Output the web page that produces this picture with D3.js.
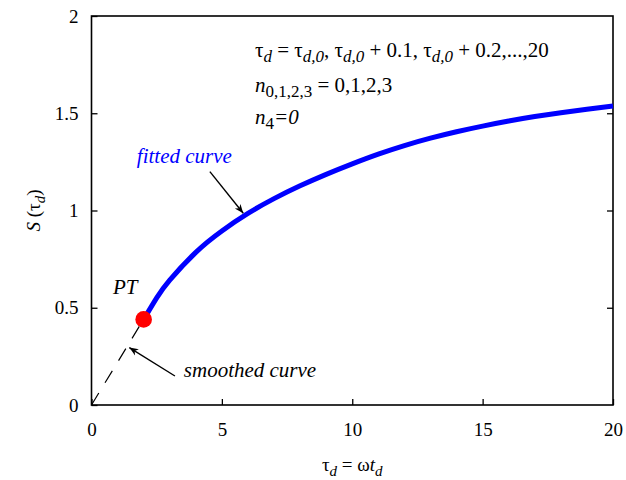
<!DOCTYPE html>
<html>
<head>
<meta charset="utf-8">
<script src="https://d3js.org/d3.v7.min.js"></script>
<style>
  body { margin: 0; background: #fff; }
  svg text { font-family: "Liberation Serif", "Times New Roman", Times, "DejaVu Serif", "Noto Serif", serif; fill: #000; }
</style>
</head>
<body>
<div id="chart"></div>
<script>
// values
const xTicks = [0, 5, 10, 15, 20];
const yTicks = [0, 0.5, 1, 1.5, 2];
const fittedX = [2, 2.5, 3, 4, 5, 6, 7, 8, 9, 10, 11, 12, 13, 14, 15, 16, 17, 18, 19, 20];
const fittedY = [0.44, 0.551, 0.642, 0.785, 0.895, 0.985, 1.061, 1.127, 1.186, 1.24, 1.29, 1.334, 1.372, 1.405, 1.434, 1.46, 1.483, 1.503, 1.521, 1.537];
const smoothX = [0, 1, 1.95];
const smoothY = [0, 0.22, 0.43];
const ptX = [2];
const ptY = [0.44];

const width = 626, height = 480;
const margin = { top: 16, right: 13, bottom: 75, left: 91.5 };

const svg = d3.select('#chart').append('svg')
  .attr('width', width)
  .attr('height', height);

const x = d3.scaleLinear().domain([0, 20]).range([margin.left, width - margin.right]);
const y = d3.scaleLinear().domain([0, 2]).range([height - margin.bottom, margin.top]);

svg.append('defs').append('marker')
  .attr('id', 'arrow')
  .attr('viewBox', '0 0 10 10')
  .attr('refX', 10).attr('refY', 5)
  .attr('markerWidth', 9).attr('markerHeight', 9)
  .attr('markerUnits', 'userSpaceOnUse')
  .attr('orient', 'auto')
  .append('path')
    .attr('d', 'M0,1 L10,5 L0,9 L3,5 Z')
    .attr('fill', '#000');

// ticks, pointing inward
const tickLen = 6;
svg.append('g')
  .attr('transform', `translate(0,${y(0)})`)
  .call(d3.axisBottom(x).tickValues(xTicks).tickSize(-tickLen).tickPadding(18).tickFormat(d3.format('d')))
  .call(g => g.select('.domain').remove());
svg.append('g')
  .attr('transform', `translate(${x(0)},0)`)
  .call(d3.axisLeft(y).tickValues(yTicks).tickSize(-tickLen).tickPadding(13).tickFormat(d => d))
  .call(g => g.select('.domain').remove());
svg.append('g')
  .attr('transform', `translate(${x(20)},0)`)
  .call(d3.axisRight(y).tickValues(yTicks.slice(1, -1)).tickSize(-tickLen).tickFormat(''))
  .call(g => g.select('.domain').remove());
svg.selectAll('g').attr('font-family', null);
svg.selectAll('.tick line').attr('stroke', '#000').attr('stroke-width', 1.3);
svg.selectAll('.tick text').attr('font-size', 19);

// frame
svg.append('rect')
  .attr('x', x(0)).attr('y', y(2))
  .attr('width', x(20) - x(0)).attr('height', y(0) - y(2))
  .attr('fill', 'none').attr('stroke', '#000').attr('stroke-width', 1.6);

// smoothed curve (dashed)
const line = d3.line().x(d => x(d[0])).y(d => y(d[1]));
svg.append('path')
  .datum(d3.zip(smoothX, smoothY))
  .attr('d', line)
  .attr('fill', 'none').attr('stroke', '#000').attr('stroke-width', 1.2)
  .attr('stroke-dasharray', '14,12');

// fitted curve
svg.append('path')
  .datum(d3.zip(fittedX, fittedY))
  .attr('d', line.curve(d3.curveNatural))
  .attr('fill', 'none').attr('stroke', '#0000ff').attr('stroke-width', 5);

// PT point
svg.selectAll('circle.pt').data(d3.zip(ptX, ptY)).enter()
  .append('circle')
    .attr('class', 'pt')
    .attr('cx', d => x(d[0])).attr('cy', d => y(d[1]))
    .attr('r', 8.3).attr('fill', '#ff0000');

// annotations
const arrow = (x1, y1, x2, y2) => svg.append('line')
  .attr('x1', x(x1)).attr('y1', y(y1)).attr('x2', x(x2)).attr('y2', y(y2))
  .attr('stroke', '#000').attr('stroke-width', 1.4)
  .attr('marker-end', 'url(#arrow)');
arrow(4.54, 1.20, 5.82, 0.986);
arrow(3.2, 0.149, 1.45, 0.295);

svg.append('text').attr('x', x(1.74)).attr('y', y(1.244))
  .attr('font-size', 21).attr('font-style', 'italic').style('fill', '#0000ff')
  .text('fitted curve');
svg.append('text').attr('x', x(0.82)).attr('y', y(0.571))
  .attr('font-size', 21).attr('font-style', 'italic')
  .text('PT');
svg.append('text').attr('x', x(3.54)).attr('y', y(0.144))
  .attr('font-size', 21).attr('font-style', 'italic')
  .text('smoothed curve');

// text block
const sub = (t, s, italic, fs) => t.append('tspan').attr('baseline-shift', '-30%').attr('font-size', fs || 15)
  .attr('font-style', italic ? 'italic' : 'normal').text(s);
const tb = svg.append('g').attr('font-size', 21);
const l1 = tb.append('text').attr('x', 255).attr('y', 57);
l1.append('tspan').text('τ'); sub(l1, 'd', true, 17);
l1.append('tspan').text(' = τ'); sub(l1, 'd,0', true, 17);
l1.append('tspan').text(', τ'); sub(l1, 'd,0', true, 17);
l1.append('tspan').text(' + 0.1, τ'); sub(l1, 'd,0', true, 17);
l1.append('tspan').text(' + 0.2,...,20');
const l2 = tb.append('text').attr('x', 255).attr('y', 92);
l2.append('tspan').attr('font-style', 'italic').text('n'); sub(l2, '0,1,2,3', false, 17);
l2.append('tspan').text(' = 0,1,2,3');
const l3 = tb.append('text').attr('x', 255).attr('y', 124).attr('font-style', 'italic');
l3.append('tspan').text('n'); sub(l3, '4', false, 17);
l3.append('tspan').text('=0');

// axis titles
const xt = svg.append('text').attr('x', x(10)).attr('y', 471).attr('text-anchor', 'middle').attr('font-size', 19);
xt.append('tspan').text('τ'); sub(xt, 'd', true);
xt.append('tspan').text(' = ω');
xt.append('tspan').attr('font-style', 'italic').text('t'); sub(xt, 'd', true);

const yt = svg.append('text').attr('transform', `translate(40,${y(1)}) rotate(-90)`)
  .attr('text-anchor', 'middle').attr('font-size', 19);
yt.append('tspan').attr('font-style', 'italic').text('S');
yt.append('tspan').text(' (τ'); sub(yt, 'd', true);
yt.append('tspan').text(')');
</script>
</body>
</html>
